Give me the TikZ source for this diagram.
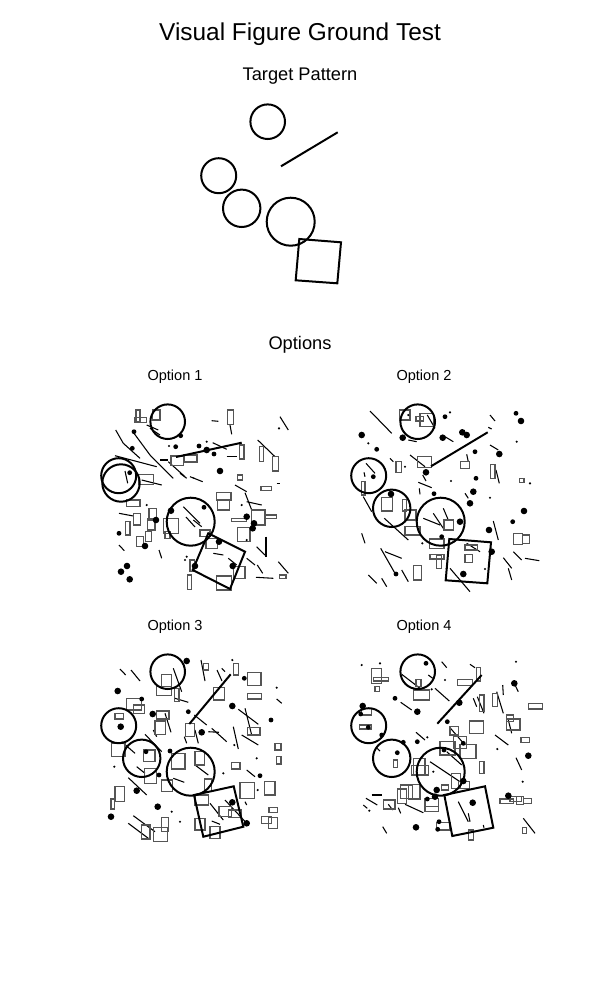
\documentclass[tikz,border=0pt]{standalone}
\usepackage{fontspec}
\setmainfont{Liberation Sans}
\definecolor{rectgray}{HTML}{555555}
\begin{document}
\begin{tikzpicture}[x=0.75pt,y=-0.75pt,
  mainshape/.style={line width=1.5pt,black},
  thinline/.style={line width=0.8pt,black},
  grayrect/.style={line width=1.05pt,rectgray},
  lbl/.style={font=\fontsize{10.9}{12}\selectfont}]
\useasboundingbox (0,0) rectangle (600,1000);
\fill[white] (0,0) rectangle (600,1000);
% titles
\node[font=\fontsize{18.3}{21}\selectfont] (title) at (300,34) {Visual Figure Ground Test};
\node[font=\fontsize{13.7}{16}\selectfont] (target) at (300,76) {Target Pattern};
\node[font=\fontsize{13.7}{16}\selectfont] (options) at (300,345) {Options};
\node[lbl] (o1) at (175,377) {Option 1};
\node[lbl] (o2) at (424,377) {Option 2};
\node[lbl] (o3) at (175,627) {Option 3};
\node[lbl] (o4) at (424,627) {Option 4};
% ---------- clutter option 1
\foreach \a/\b/\c/\d in {134/433.3/150/455,115.7/430/123.3/443.3,123.3/443.3/140/458.3,150/455/173.3/478.3,115/455.7/156.7/466.7,168.3/461.7/185/476.7,160/460/168/460,141.7/480/161.7/485,125/471/127.7/483.3,190/476.7/194.3/478.3,146.7/425/158.3/430,150/428.3/160/435,230/425/231.7/434.3,211.7/420.7/218.3/421.3,280/416.7/288.3/430,226.7/456.7/237.3/456.7,257.7/440/275/456.7,180/473.3/186.7/478.3,192.7/477.7/202.7/481.7,235/485/246.7/491.7,276.7/483.3/280/483.3,212.7/442.7/226.7/449.3,119/513.3/133.3/516,119/545/124.3/550.7,159/550/161.7/558.3,183.3/506.7/200/523.3,186/517/195/527,246.7/501.7/261.7/505,245/492.7/251.7/510,266/536.7/266/556.7,256.7/546.7/265/555,213.3/553.3/223.3/555,228.3/558.3/236.7/565,246.7/558.3/255/565,257.3/565/262.7/573.3,278.3/561.7/288.3/573.3,256/577.3/273.3/578.3,193.3/520/201.7/526.7}
  \draw[thinline] (\a,\b) -- (\c,\d);
\foreach \a/\b/\c/\d in {136/410/140/421.7,134.3/417.7/146.7/422.3,152.3/410/160/420,171/456/183.3/465.7,184/455/197/462,138.3/474.3/153.3/484.3,227.7/410/233.3/424.3,239.3/445/244/459,259.3/446.7/263.3/461.7,272.7/456.7/278.3/471,237.7/475/242.7/480,261/486.7/271.7/490.7,216.7/492.5/231/500,126.7/500/140/506.7,133.3/513.3/140.7/525,125.7/521.7/130/535,149/508.3/156.7/520,147.7/518.3/155/530,145.7/531.7/151.7/541.7,136.7/536.7/143.3/546.7,163.3/518.3/178.3/533.3,165/531.7/170/538.3,187.7/575/191.7/589.3,190/560/194.3/571.7,217.3/500/229.3/510,231.7/518.3/246.7/521.7,251.7/510/265/525,265/515/276.7/518.3,237.3/527.3/250/541.7,200/530/210/536.7,206/538.3/217.3/548.3,279.3/575/286/578.3,233.3/566.7/245/578.3,216.7/576/231.7/590}
  \draw[grayrect] (\a,\b) rectangle (\c,\d);
\foreach \a/\b in {220/471,206.7/450,156/520,145/546,171/510.7,127/566,121/571.7,129.7/579.3,246.7/516.7,254/523.3,252.7/528.3,219/541.7,232.7/566,195/566}
  \fill (\a,\b) circle[radius=3.3];
\foreach \a/\b in {180.7/435.7,134/431.7,132.3/448.3,175.7/446.7,129.7/472.7,199/446,214/454,119/533.3,204/507.3}
  \fill (\a,\b) circle[radius=2.4];
\foreach \a/\b in {169/446,279/428.3,206.7/441.7,146.7/505,186.7/556.7,185/560,241.7/505,246.7/540}
  \fill (\a,\b) circle[radius=1.2];
% ---------- clutter option 2
\foreach \a/\b/\c/\d in {370/411/391.7/433.3,427.3/415/435/428.3,408.3/440/416.7/441.7,445/436.7/453.3/441.7,490/445/498.3/450,490/415/495/421,410/455/425/466.7,390/458.3/393.3/461.7,466.7/454.3/468.3/461.7,496/470/499.3/483.3,422.7/475/426/481,418.3/482.3/431.7/487.7,419.3/488.3/420/494.3,465/493.3/468.3/498.3,366/463.3/375/473.3,364/472.3/365/476.7,363.3/496.7/371.7/511.7,384.3/518.3/408.3/540,423.3/518.3/440/525,433.3/513.3/443.3/528.3,443.3/508.3/448.3/520,493.3/521/498.3/540,466.7/543.3/480/551.7,450/568.3/470/591.7,503.3/557.7/511.7/568.3,508.3/568.3/511.7/580,513.3/551.7/521.7/560,525/558.3/539.3/560.7,361.7/533.3/365/543.3,380.7/548.3/395/573.3,385/551.7/401.7/558.3,401.7/570/408.3/581.7,368.3/575/376.7/583.3,381.7/578.3/386.7/586.7,488.3/427.3/491.7/429}
  \draw[thinline] (\a,\b) -- (\c,\d);
\foreach \a/\b/\c/\d in {399.3/410/410/420,416/416.7/423.3/421,420/413.3/433.3/426.7,417.7/456.7/431.7/467.7,396/461.7/401.7/472.3,460.7/461.7/469.3/468.3,490.7/464.3/495/478.3,519.3/478.3/524/482.7,361.7/481.7/365/495,381.7/497.7/392.7/511,402.7/499.3/406.7/511,405/510/416/520,405/526.7/420/535,444/520/453.3/530,513.3/533.3/522.7/544.3,522.7/535/529.3/543.3,429.3/539/444/548.3,430/554.3/444/559,436.7/555/441.7/568.3,465/545/477.3/550,465/554.3/472.3/562.7,413.3/565.7/421.7/580}
  \draw[grayrect] (\a,\b) rectangle (\c,\d);
\foreach \a/\b in {361.7/435,402.7/437.7,442.7/437.7,462.3/432.3,466.7/435,499.3/454,521/421,426/472.3,391/494,473.3/491.7,470/503.3,524/511,460/521.7,489/530,491.7/551.7,463.3/574}
  \fill (\a,\b) circle[radius=3.3];
\foreach \a/\b in {445/416.7,376.7/449.3,475/451.7,516/413.3,434/493.7,476/478.3,512.7/521.7,373.3/476.7,396/574,441.7/536.7}
  \fill (\a,\b) circle[radius=2.4];
\foreach \a/\b in {450/412.3,368.3/443.3,516.7/441.7,405/466.7,530/483.3,451/481,490/497.7,422.3/543.3,446.7/568.3,485/569,408.3/415}
  \fill (\a,\b) circle[radius=1.2];
% ---------- clutter option 3
\foreach \a/\b/\c/\d in {120/669/125.7/675,131/670/140/681,173.3/668.3/181.7/691.7,175/698.3/188.3/702.3,201/660/205/681,217/670/222/681,221.7/668.3/225/671.7,276.7/699/281.7/703.3,165/713.3/171/732.3,153.3/730/156.7/736.7,238.3/709.3/258.3/724.3,245/708.3/251.7/735,194.3/715/206.7/725,195/730/198.3/743.3,208.3/731.7/219/732.3,211.7/728.3/226.7/741.7,233.3/726.7/238.3/749,241.7/735/258.3/745,184.3/736.7/186.7/743.3,121.7/741.7/135/753.3,145/734.3/161.7/751.7,195/765/208.3/775,246.7/770/255/776.7,136.7/766.7/145/773.3,128.3/777.7/146.7/795,173.3/778.3/184.3/782.3,245/801.7/246.7/805,133.3/815.7/155/831.7,128.3/823.3/148.3/838.3,210/803.3/223.3/820,225/800/246.7/823.3,211.7/821/220/824.3}
  \draw[thinline] (\a,\b) -- (\c,\d);
\foreach \a/\b/\c/\d in {161.7/674.3/171.7/686.7,156.7/686.7/171.7/695.7,174.3/688.3/179/701.7,203.3/663.3/208.3/670,233.3/663.3/238.3/675,247.7/672.3/261/685.7,247.7/693.3/261.7/699,213.3/687.7/224.3/700,126.7/698.3/141.7/710,133.3/705/144.3/713.3,115/713.3/123.3/719,156.7/711/169/719,155/721/165.7/734.3,185.7/723.3/194.3/736.7,247.7/727.7/260/735,111.7/743.3/125/756.7,143.3/750/155/761.7,171.7/753.3/185/769,195/751.7/204.3/765,275/743.3/281/750,276.7/756.7/281/764,231.7/762.3/240/769,144.3/768.3/156.7/783.3,115/786.7/124.3/801.7,111/799/114.3/809,161.7/780/172.3/791.7,204.3/779/211.7/791.7,195/795/208.3/805,240/782.3/254.3/798.3,264.3/781.7/275/795,141.7/825/150/839,153.3/827.7/167.7/841.7,161.7/817.3/168.3/831.7,195/818.3/205/830,210/826.7/220/838.3,219/806.7/231.7/816.7,228.3/810/241.7/817.7,269/807.7/277.7/812.7,261.7/816.7/271.7/823.3,268.3/817.7/277.7/828.3}
  \draw[grayrect] (\a,\b) rectangle (\c,\d);
\foreach \a/\b in {186.7/661,117.7/691,120.7/726.7,152.7/714,232.3/706,201.7/732.3,136.7/790.7,157.7/806.7,111/816.7,232.3/802.3,246.7/823.3}
  \fill (\a,\b) circle[radius=3.3];
\foreach \a/\b in {244.3/678.3,141.7/699,188.3/711.7,271/720,146/751.7,170/751,260/775.7,159/775}
  \fill (\a,\b) circle[radius=2.4];
\foreach \a/\b in {276.7/687.7,234.3/745,256.7/758.3,223.3/773.3,114.3/766.7,257.7/790,171.7/811.7,180/821.7,232.3/660}
  \fill (\a,\b) circle[radius=1.2];
% ---------- clutter option 4
\foreach \a/\b/\c/\d in {401.7/674.3/420/688.3,428.3/675/432.7/678.3,435/688.3/449.3/701,441.7/661.7/446.7/667.7,470/664.3/475/667.7,473.3/698.3/476.7/706.7,477.3/696.7/484/713.3,496.7/691.7/503.3/713.3,502.7/685/503.3/695,515/685/518.3/691.7,400.7/702.3/411.7/710,450/727.7/465/745,508.3/720/511.7/733.3,495/735/508.3/745,416/732.3/425/740,446.7/751.7/461.7/765,516/757.7/521.7/770,377.3/748.3/380/751,430/761.7/460/781.7,371.7/795/381.7/795,366/798.3/377.3/805,363.3/805/367.3/808.3,388.3/804.3/392.7/810,398.3/807.7/400.7/813.3,405/804.3/423.3/812.7,382.7/826.7/386.7/833.3,458.3/801.7/468.3/821.7,468.3/813.3/470/821.7,523.3/818.3/535/833.3,483.3/825/484/827.7}
  \draw[thinline] (\a,\b) -- (\c,\d);
\foreach \a/\b/\c/\d in {371.7/668.3/381.7/683.3,373.3/677.7/388.3/681,375/686.7/379.3/691.7,416/679.3/421/686.7,413.3/690/429.3/700,476.7/667.7/480.7/681,457.7/679.3/472.7/685.7,479.3/695/484/711.7,492.7/693.3/497.3/706.7,528.3/703.3/542.7/709,361.7/708.3/371.7/715,359.3/725/371.7/729,450/726.7/458.3/735,469.3/721/483.3/733.3,506.7/715/513.3/721.7,506.7/719/520/730,521/737.7/529.3/742.3,440/741.7/455/755,453.3/736.7/466.7/748.3,460/744.3/476/758.3,393.3/760/397.3/767.7,479.3/761.7/484/773.3,413.3/758.3/425/774.3,411.7/765.3/428.3/775,451.7/773.3/460.7/788.3,458.3/781.7/469.3/788.3,441.7/785/448.3/790,400.7/785/412.7/798.3,397.3/789/406.7/803.3,408.3/784.3/420/799,383.3/800/395/809,425/806.7/438.3/811.7,425/798.3/438.3/811.7,436.7/822.3/450/830,500/799/513.3/803.3,510/796.7/521.7/801.7,516.7/796.7/523.3/804.3,523.3/798.3/531.7/803.3,468.3/830/473.3/840,522.7/827.7/526.7/833.3}
  \draw[grayrect] (\a,\b) rectangle (\c,\d);
\foreach \a/\b in {514.3/683.3,417.3/711.7,362.7/706,459.3/702.7,528.3/755.7,463.3/781,436.7/790,435/796.7,416/827.3,508.3/795.7,472.7/802.7}
  \fill (\a,\b) circle[radius=3.3];
\foreach \a/\b in {426/663.3,395/698.3,360.7/714,368.3/727.3,381.7/735,447.3/721.7,417.3/741.7,463.3/743.3,444/750,397.3/752.7,403.3/742.3,427.3/799,439/821.7,437.7/829.3}
  \fill (\a,\b) circle[radius=2.4];
\foreach \a/\b in {361.7/665,380/663.3,431.7/689.3,445/680,516/661.7,427.3/737.3,497.3/749,433.3/771.7,522.7/781.7,369.3/810.7}
  \fill (\a,\b) circle[radius=1.2];
% ---------- target pattern
\draw[mainshape] (267.7,121.7) circle[radius=17.3];
\draw[mainshape] (218.7,175.7) circle[radius=17.5];
\draw[mainshape] (241.7,208.3) circle[radius=18.7];
\draw[mainshape] (290.7,221.7) circle[radius=24];
\draw[mainshape] (281,166.3) -- (337.7,132.3);
\draw[mainshape] (299.3,239) -- (341,242.3) -- (337.3,283.3) -- (295.7,280.3) -- cycle;
% ---------- option 2 (exact)
\begin{scope}[shift={(150,300)}]
\draw[mainshape] (267.7,121.7) circle[radius=17.3];
\draw[mainshape] (218.7,175.7) circle[radius=17.5];
\draw[mainshape] (241.7,208.3) circle[radius=18.7];
\draw[mainshape] (290.7,221.7) circle[radius=24];
\draw[mainshape] (281,166.3) -- (337.7,132.3);
\draw[mainshape] (299.3,239) -- (341,242.3) -- (337.3,283.3) -- (295.7,280.3) -- cycle;
\end{scope}
% ---------- option 1
\draw[mainshape] (167.7,421.7) circle[radius=17.3];
\draw[mainshape] (118.7,475.7) circle[radius=17.5];
\draw[mainshape] (121,483) circle[radius=18.7];
\draw[mainshape] (190.7,521.7) circle[radius=24];
\draw[mainshape] (176,457) -- (241.7,442.7);
\draw[mainshape] (208.3,533.3) -- (245,551.7) -- (230,589) -- (192.7,570) -- cycle;
% ---------- option 3
\draw[mainshape] (167.7,671.7) circle[radius=17.3];
\draw[mainshape] (118.7,725.7) circle[radius=17.5];
\draw[mainshape] (141.7,758.3) circle[radius=18.7];
\draw[mainshape] (190.7,771.7) circle[radius=24];
\draw[mainshape] (189.3,724) -- (230.7,674.3);
\draw[mainshape] (194,795) -- (233.7,786.3) -- (243.3,826.7) -- (203.3,836.7) -- cycle;
% ---------- option 4
\draw[mainshape] (417.7,671.7) circle[radius=17.3];
\draw[mainshape] (368.7,725.7) circle[radius=17.5];
\draw[mainshape] (391.7,758.3) circle[radius=18.7];
\draw[mainshape] (440.7,771.7) circle[radius=24];
\draw[mainshape] (437.3,723.7) -- (481.7,675);
\draw[mainshape] (444.3,795) -- (485,786.3) -- (493.3,827.7) -- (452.3,836) -- cycle;
\end{tikzpicture}
\end{document}
